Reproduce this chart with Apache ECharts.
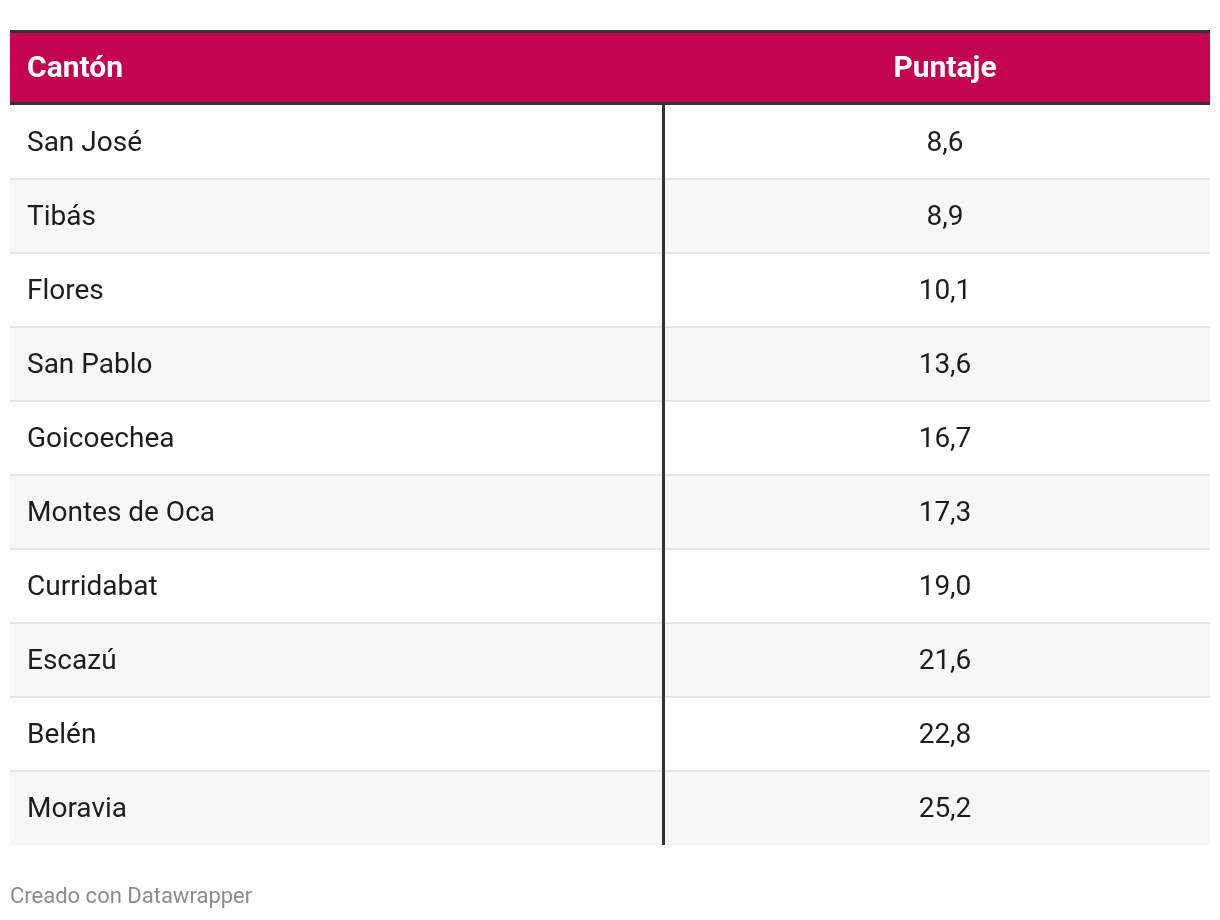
<!DOCTYPE html>
<html>
<head>
<meta charset="utf-8">
<script src="https://cdn.jsdelivr.net/npm/echarts@6/dist/echarts.min.js"></script>
<style>
  html, body { margin: 0; padding: 0; background: #fff; }
  #chart { width: 1220px; height: 920px; }
</style>
</head>
<body>
<div id="chart"></div>
<script>
const headers = ['Cantón', 'Puntaje'];
const cantones = ['San José', 'Tibás', 'Flores', 'San Pablo', 'Goicoechea', 'Montes de Oca', 'Curridabat', 'Escazú', 'Belén', 'Moravia'];
const puntajes = [8.6, 8.9, 10.1, 13.6, 16.7, 17.3, 19.0, 21.6, 22.8, 25.2];
const footer = 'Creado con Datawrapper';

const FONT = 'Roboto, "Noto Sans", sans-serif';
const TABLE_L = 10, TABLE_W = 1200, DIV_X = 662, VAL_CX = 945;
const ROW_TOP = 105, ROW_H = 74;

const chart = echarts.init(document.getElementById('chart'), null, { renderer: 'canvas' });

function fmt(v) { return v.toFixed(1).replace('.', ','); }

const option = {
  animation: false,
  backgroundColor: '#ffffff',
  grid: { left: TABLE_L, width: TABLE_W, top: ROW_TOP, height: ROW_H * cantones.length },
  xAxis: { type: 'value', min: 0, max: 1, show: false },
  yAxis: { type: 'category', data: cantones, inverse: true, show: false },
  graphic: [
    { type: 'rect', shape: { x: TABLE_L, y: 30, width: TABLE_W, height: 3 }, style: { fill: '#333333' } },
    { type: 'rect', shape: { x: TABLE_L, y: 33, width: TABLE_W, height: 69 }, style: { fill: '#c30350' } },
    { type: 'rect', shape: { x: TABLE_L, y: 102, width: TABLE_W, height: 3 }, style: { fill: '#333333' } },
    { type: 'text', x: 27, y: 69, style: { text: headers[0], fill: '#ffffff', font: 'bold 30px ' + FONT, textAlign: 'left', textVerticalAlign: 'middle' } },
    { type: 'text', x: VAL_CX, y: 69, style: { text: headers[1], fill: '#ffffff', font: 'bold 30px ' + FONT, textAlign: 'center', textVerticalAlign: 'middle' } },
    { type: 'text', x: 10, y: 897, style: { text: footer, fill: '#8c8c8c', font: '22px ' + FONT, textAlign: 'left', textVerticalAlign: 'middle' } }
  ],
  series: [{
    type: 'custom',
    coordinateSystem: 'cartesian2d',
    data: cantones.map((c, i) => [0, c, puntajes[i]]),
    encode: { x: 0, y: 1 },
    renderItem: function (params, api) {
      const i = params.dataIndex;
      const cs = params.coordSys;
      const yc = api.coord([0, i])[1];
      const h = api.size([0, 1])[1];
      const top = yc - h / 2;
      const children = [
        { type: 'rect', shape: { x: cs.x, y: top, width: cs.width, height: h }, style: { fill: i % 2 ? '#f7f7f7' : '#ffffff' } }
      ];
      if (i > 0) {
        children.push({ type: 'rect', shape: { x: cs.x, y: top - 1, width: cs.width, height: 2 }, style: { fill: '#e6e6e6' } });
      }
      children.push({ type: 'rect', shape: { x: DIV_X, y: top - 1, width: 3, height: h + 1 }, style: { fill: '#333333' } });
      children.push({ type: 'text', x: 27, y: yc + 2, style: { text: cantones[i], fill: '#1d1d1d', font: '28px ' + FONT, textAlign: 'left', textVerticalAlign: 'middle' } });
      children.push({ type: 'text', x: VAL_CX, y: yc + 2, style: { text: fmt(api.value(2)), fill: '#1d1d1d', font: '28px ' + FONT, textAlign: 'center', textVerticalAlign: 'middle' } });
      return { type: 'group', children: children };
    }
  }]
};
chart.setOption(option);
</script>
</body>
</html>
